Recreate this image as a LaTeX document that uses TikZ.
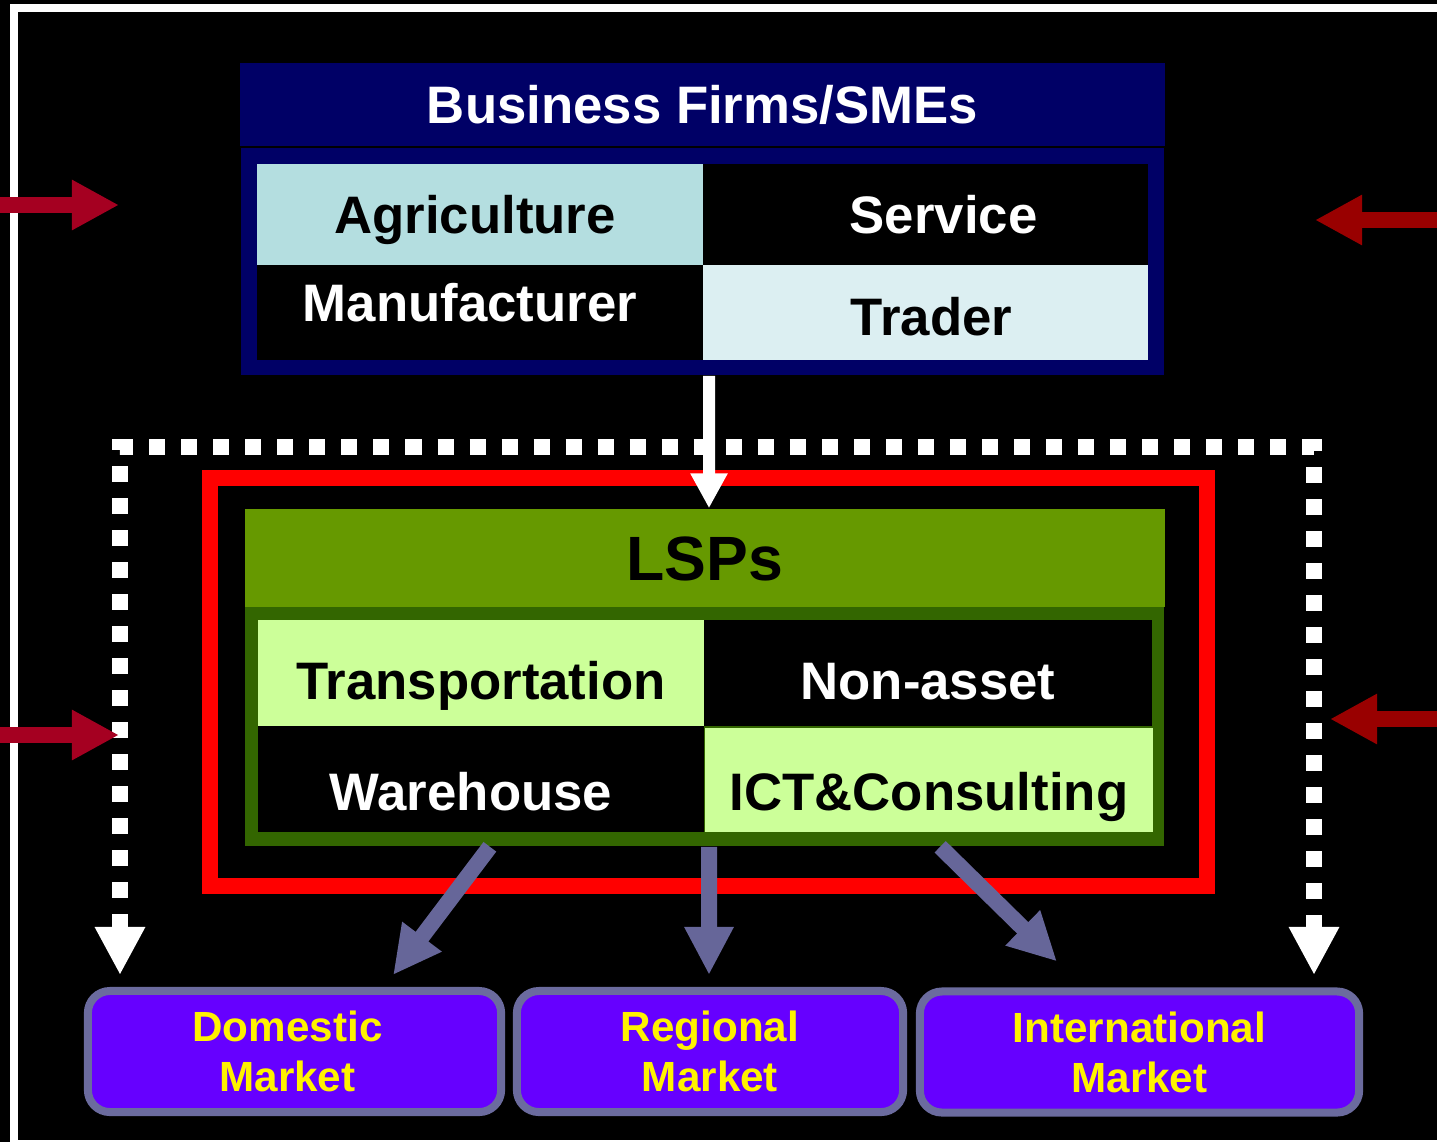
\documentclass[tikz,border=0pt]{standalone}
\usepackage{fontspec}
\setmainfont{Liberation Sans}
\usetikzlibrary{arrows.meta}

\definecolor{navy}{HTML}{000066}
\definecolor{agricyan}{HTML}{B4DEE0}
\definecolor{tradercyan}{HTML}{DCEFF2}
\definecolor{lspgreen}{HTML}{669900}
\definecolor{lspdark}{HTML}{336600}
\definecolor{lspcell}{HTML}{CCFF99}
\definecolor{arrowgray}{HTML}{666699}
\definecolor{marketfill}{HTML}{6600FF}
\definecolor{marketborder}{HTML}{6B6B9E}
\definecolor{leftred}{HTML}{A50021}
\definecolor{rightred}{HTML}{990000}

\begin{document}
\begin{tikzpicture}[x=0.01cm, y=-0.01cm]
    % Define styles
    \tikzset{
        header/.style={
            rectangle,
            inner sep=0pt,
            text=white,
            font=\bfseries\fontsize{15}{18}\selectfont,
            text height=0.45cm,
            text depth=0.07cm
        },
        frame/.style={
            rectangle,
            inner sep=0pt
        },
        cell/.style={
            rectangle,
            inner sep=0pt,
            minimum width=4.46cm,
            font=\bfseries\fontsize{15}{18}\selectfont,
            text height=0.45cm,
            text depth=0.07cm
        },
        market/.style={
            draw=marketborder,
            fill=marketfill,
            line width=0.08cm,
            rounded corners=0.22cm,
            inner sep=0pt,
            minimum width=4.13cm,
            minimum height=1.21cm,
            align=center,
            text=yellow,
            font=\bfseries\fontsize{12}{14.2}\selectfont
        },
        whitearrow/.style={
            white,
            line width=0.12cm,
            -{Triangle[width=0.35cm, length=0.35cm]}
        },
        dottedarrow/.style={
            white,
            line width=0.16cm,
            dash pattern=on 0.16cm off 0.16cm,
            {Triangle[width=0.47cm, length=0.48cm]}-{Triangle[width=0.47cm, length=0.48cm]}
        },
        mkarrow/.style={
            arrowgray,
            line width=0.16cm,
            -{Triangle[width=0.46cm, length=0.48cm]}
        },
        sidearrow/.style={
            line width=0.16cm,
            -{Triangle[width=0.47cm, length=0.47cm]}
        }
    }

    % Background and frame
    \useasboundingbox (0,0) rectangle (1437,1142);
    \clip (0,0) rectangle (1437,1142);
    \fill[black] (0,0) rectangle (1437,1142);
    \draw[white, line width=0.08cm] (14,8) rectangle (1470,1144);

    % Business firms
    \node[header, fill=navy, minimum width=9.25cm, minimum height=0.83cm] (firms) at (702.5,104.5) {Business Firms/SMEs};
    \node[frame, fill=navy, minimum width=9.23cm, minimum height=2.27cm] (firmsbox) at (702.5,261.5) {};
    \node[cell, fill=agricyan, minimum height=1.01cm] (agri) at (480,214.5) {Agriculture\hspace*{0.1cm}};
    \node[cell, fill=black, text=white, minimum width=4.45cm, minimum height=1.01cm] (service) at (925.5,214.5) {\hspace*{0.36cm}Service};
    \node[cell, fill=black, text=white, minimum height=0.95cm, text height=0.25cm] (manuf) at (480,312.5) {Manufacturer\hspace*{0.2cm}};
    \node[cell, fill=tradercyan, minimum width=4.45cm, minimum height=0.95cm, text height=0.53cm] (trader) at (925.5,312.5) {\hspace*{0.12cm}Trader};

    % Dotted path to the markets
    \coordinate (dotl) at (120,975);
    \coordinate (dotr) at (1314,975);
    \coordinate (dottop) at (717,447);
    \draw[dottedarrow] (dotl) |- (dottop) -| (dotr);

    % LSPs
    \node[frame, draw=red, line width=0.16cm, minimum width=9.97cm, minimum height=4.08cm] (core) at (708.5,682) {};
    \node[header, fill=lspgreen, text=black, minimum width=9.2cm, minimum height=0.98cm, font=\bfseries\fontsize{17.8}{21}\selectfont, text height=0.52cm] (lsps) at (705,558) {LSPs};
    \node[frame, fill=lspdark, minimum width=9.19cm, minimum height=2.39cm] (lspbox) at (704.5,726.5) {};
    \node[cell, fill=lspcell, minimum height=1.06cm, text height=0.59cm] (transport) at (481,673) {Transportation};
    \node[cell, fill=black, text=white, minimum width=4.48cm, minimum height=1.06cm, text height=0.59cm] (nonasset) at (928,673) {Non-asset};
    \node[cell, fill=black, text=white, minimum height=1.06cm, text height=0.69cm] (warehouse) at (481,779) {Warehouse\hspace*{0.2cm}};
    \node[cell, fill=lspcell, minimum width=4.48cm, minimum height=1.04cm, text height=0.67cm] (ict) at (929,780) {ICT\&Consulting};

    % Markets
    \node[market] (domestic) at (294.5,1051.5) {Domestic\hspace*{0.14cm}\\Market\hspace*{0.14cm}};
    \node[market, minimum width=3.86cm] (regional) at (710,1051.5) {Regional\\Market};
    \node[market, minimum width=4.39cm] (international) at (1139.5,1052) {International\\Market};

    % Connections
    \draw[whitearrow] ([xshift=0.065cm]firmsbox.south) -- ([xshift=0.04cm]lsps.north);
    \draw[mkarrow] ([xshift=-2.145cm]lspbox.south) -- ([xshift=0.985cm, yshift=0.12cm]domestic.north);
    \draw[mkarrow] ([xshift=0.045cm]lspbox.south) -- ([xshift=-0.01cm, yshift=0.12cm]regional.north);
    \draw[mkarrow] ([xshift=2.355cm]lspbox.south) -- ([xshift=-0.825cm, yshift=0.26cm]international.north);

    % Side arrows
    \coordinate (lefttop) at (-20,205);
    \coordinate (lefttoptip) at (119,205);
    \coordinate (leftlow) at (-20,735);
    \coordinate (leftlowtip) at (119,735);
    \coordinate (righttop) at (1460,220);
    \coordinate (righttoptip) at (1315,220);
    \coordinate (rightlow) at (1460,719);
    \coordinate (rightlowtip) at (1330,719);
    \draw[sidearrow, leftred] (lefttop) -- (lefttoptip);
    \draw[sidearrow, leftred] (leftlow) -- (leftlowtip);
    \draw[sidearrow, rightred] (righttop) -- (righttoptip);
    \draw[sidearrow, rightred] (rightlow) -- (rightlowtip);

\end{tikzpicture}
\end{document}
